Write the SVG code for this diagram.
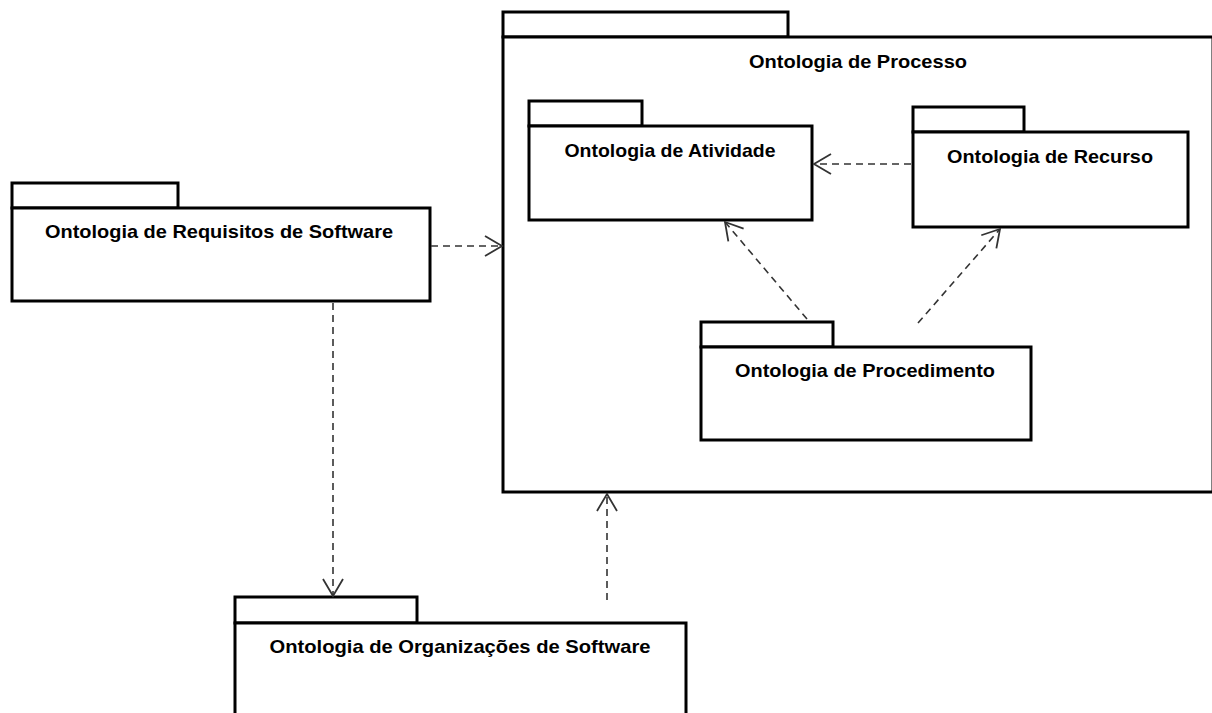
<svg xmlns="http://www.w3.org/2000/svg" width="1212" height="713" viewBox="0 0 1212 713">
  <style>
    .pkg { fill: #ffffff; stroke: #000000; stroke-width: 3; }
    .title { font-family: "Liberation Sans", Arial, sans-serif; font-weight: bold; font-size: 19px; fill: #000000; text-anchor: middle; }
    .dep { fill: none; stroke: #333333; stroke-width: 1.6; stroke-dasharray: 7 5; }
  </style>
  <defs>
    <marker id="open-arrow" markerUnits="userSpaceOnUse" markerWidth="24" markerHeight="26" refX="18" refY="11" orient="auto" viewBox="0 0 24 26">
      <polyline points="1,1 18,11 1,21" fill="none" stroke="#333333" stroke-width="1.8"/>
    </marker>
  </defs>

  <rect width="1212" height="713" fill="#ffffff"/>

  <!-- outer package -->
  <g id="ontologia-processo">
    <rect class="pkg" x="503" y="12" width="285" height="25"/>
    <rect class="pkg" x="503" y="37" width="710" height="455"/>
    <text class="title" x="858" y="68" textLength="218" lengthAdjust="spacingAndGlyphs">Ontologia de Processo</text>
  </g>

  <g id="ontologia-atividade">
    <rect class="pkg" x="529" y="101" width="113" height="25"/>
    <rect class="pkg" x="529" y="126" width="283" height="94"/>
    <text class="title" x="670" y="157" textLength="211" lengthAdjust="spacingAndGlyphs">Ontologia de Atividade</text>
  </g>

  <g id="ontologia-recurso">
    <rect class="pkg" x="913" y="107" width="111" height="25"/>
    <rect class="pkg" x="913" y="132" width="275" height="95"/>
    <text class="title" x="1050" y="163" textLength="206" lengthAdjust="spacingAndGlyphs">Ontologia de Recurso</text>
  </g>

  <g id="ontologia-procedimento">
    <rect class="pkg" x="701" y="322" width="132" height="25"/>
    <rect class="pkg" x="701" y="347" width="330" height="93"/>
    <text class="title" x="865" y="377" textLength="260" lengthAdjust="spacingAndGlyphs">Ontologia de Procedimento</text>
  </g>

  <g id="ontologia-requisitos">
    <rect class="pkg" x="12" y="183" width="166" height="25"/>
    <rect class="pkg" x="12" y="208" width="418" height="93"/>
    <text class="title" x="219" y="238" textLength="348" lengthAdjust="spacingAndGlyphs">Ontologia de Requisitos de Software</text>
  </g>

  <g id="ontologia-organizacoes">
    <rect class="pkg" x="235" y="597" width="182" height="26"/>
    <rect class="pkg" x="235" y="623" width="451" height="110"/>
    <text class="title" x="460" y="653" textLength="381" lengthAdjust="spacingAndGlyphs">Ontologia de Organizações de Software</text>
  </g>

  <!-- dependencies -->
  <g id="connectors">
    <line class="dep" x1="431" y1="246" x2="502" y2="246" marker-end="url(#open-arrow)"/>
    <line class="dep" x1="333" y1="303" x2="333" y2="596" marker-end="url(#open-arrow)"/>
    <line class="dep" x1="607" y1="600" x2="607" y2="494" marker-end="url(#open-arrow)"/>
    <line class="dep" x1="911" y1="164" x2="814" y2="164" marker-end="url(#open-arrow)"/>
    <line class="dep" x1="807" y1="319" x2="725" y2="222" marker-end="url(#open-arrow)"/>
    <line class="dep" x1="918" y1="323" x2="1000" y2="229" marker-end="url(#open-arrow)"/>
  </g>
</svg>
